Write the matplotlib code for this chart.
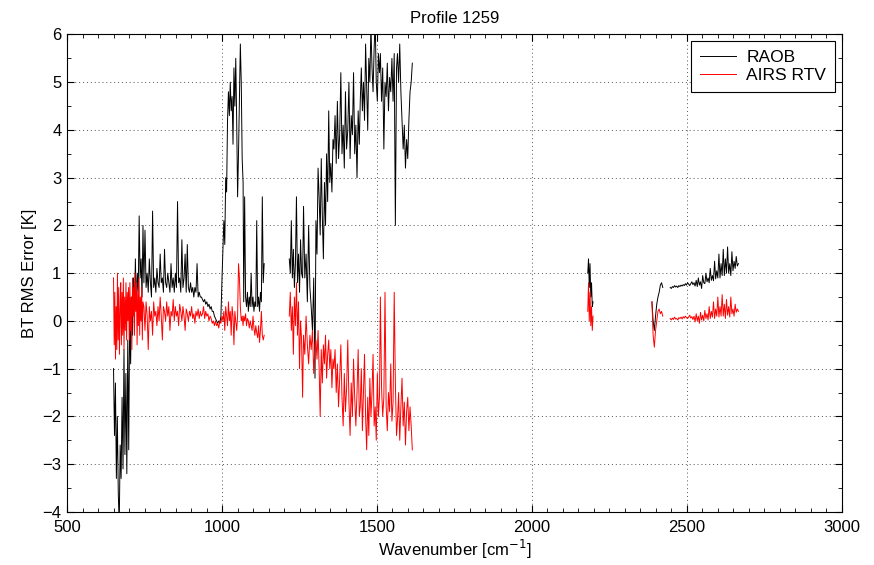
import numpy as np
import matplotlib
matplotlib.use("Agg")
import matplotlib.pyplot as plt
from matplotlib.ticker import MultipleLocator

plt.rcParams['font.family'] = ['Liberation Sans', 'DejaVu Sans']
plt.rcParams['axes.unicode_minus'] = True

title = "Profile 1259"
xlabel = "Wavenumber [cm$^{-1}$]"
ylabel = "BT RMS Error [K]"
series_names = ["RAOB", "AIRS RTV"]

# Each piece: (start wavenumber, end wavenumber)
raob_pieces = [
    (650, 745, [-1.0, -2.4, -1.3, -3.3, -2.0, -3.6, -4.3, -2.6, -3.3, -1.6, -3.1, -0.6, -2.8, -1.1,
                -3.2, -0.4, -2.7, 0.2, -0.9, 0.5, -0.3, 0.9, 0.1, 1.3, 0.3, 1.0, 0.6, 2.2, 0.9, 1.3,
                0.5, 2.0]),
    (748, 1000, [0.8, 1.9, 0.7, 1.0, 0.6, 1.3, 0.8, 0.5, 2.3, 0.7, 0.9, 0.6, 1.1, 0.8, 0.7, 1.4,
                 0.8, 0.9, 0.6, 1.5, 0.8, 0.7, 1.0, 0.8, 0.6, 1.2, 0.7, 0.9, 0.6, 1.0, 0.7, 2.5,
                 0.8, 0.9, 0.6, 1.7, 0.7, 0.9, 1.4, 0.6, 1.6, 0.7, 0.6, 0.8, 0.6, 0.7, 0.5, 0.7,
                 0.6, 1.2, 0.5, 0.6, 0.5, 0.5, 0.45, 0.4, 0.45, 0.35, 0.4, 0.3, 0.35, 0.25, 0.3,
                 0.2, 0.2, 0.1, 0.05, 0.0, -0.05, 0.0, -0.05, 0.1, 0.9]),
    (1003, 1068, [1.5, 2.1, 1.6, 3.0, 2.7, 4.2, 4.8, 4.3, 5.0, 4.4, 4.7, 3.7, 5.3, 4.5, 5.5, 4.2,
                  2.6, 3.5, 4.7, 5.8, 5.0, 3.4, 2.9]),
    (1070, 1136, [0.4, 2.6, 0.5, 0.3, 0.6, 0.2, 0.5, 0.3, 1.0, 0.3, 0.5, 0.2, 0.4, 0.3, 2.1, 0.3,
                  0.5, 0.2, 0.6, 0.4, 2.6, 0.8, 1.2]),
    None,
    (1217, 1260, [1.3, 1.0, 2.1, 0.9, 1.5, 0.7, 1.2, 2.6, 0.8, 1.4, 0.6, 1.7, 1.0, 0.9]),
    (1263, 1300, [2.4, 0.9, 1.4, 0.4, 2.0, 0.7, 0.3, -0.2, 0.9, -1.2]),
    (1303, 1358, [2.1, 1.4, 3.2, 2.6, 1.8, 3.4, 2.2, 1.3, 2.9, 2.0, 3.5, 2.5, 4.4, 2.9, 3.3, 2.7,
                  3.8]),
    (1361, 1443, [3.6, 4.3, 3.3, 4.6, 3.4, 3.9, 5.2, 3.5, 4.1, 3.2, 4.8, 3.6, 4.0, 5.0, 3.4, 4.3,
                  3.9, 5.2, 3.5, 4.1, 3.0, 4.4, 3.7]),
    (1446, 1508, [4.6, 5.3, 4.4, 5.0, 4.2, 5.8, 4.9, 4.0, 5.5, 5.0, 6.2, 5.3, 4.8, 5.7, 6.3, 5.0,
                  4.6, 5.6, 5.2]),
    (1511, 1563, [5.6, 4.6, 5.3, 3.6, 5.0, 4.7, 5.4, 4.4, 5.1, 4.8, 5.5, 4.6, 5.6, 2.0, 5.3]),
    (1566, 1614, [5.6, 5.0, 5.8, 4.8, 4.2, 3.6, 4.1, 3.2, 3.8, 3.4, 4.2, 4.8, 5.0, 5.4]),
    None,
    (2180, 2197, [1.0, 1.3, 0.7, 1.2, 0.5, 0.8, 0.3, 0.4]),
    None,
    (2387, 2422, [0.4, 0.0, -0.2, 0.1, 0.35, 0.5, 0.6, 0.75, 0.8, 0.7]),
    None,
    (2446, 2666, [0.7, 0.68, 0.72, 0.7, 0.74, 0.71, 0.73, 0.7, 0.74, 0.72, 0.75, 0.73, 0.76, 0.74,
                  0.78, 0.75, 0.8, 0.77, 0.74, 0.78, 0.82, 0.76, 0.8, 0.73, 0.85, 0.72, 0.9, 0.75,
                  0.82, 0.68, 0.95, 0.8, 0.78, 1.0, 0.82, 0.9, 0.8, 1.1, 0.85, 0.95, 0.84, 1.25,
                  0.88, 1.05, 0.9, 1.4, 0.9, 1.2, 0.95, 1.5, 0.95, 1.3, 1.0, 1.55, 1.0, 1.2, 0.95,
                  1.45, 1.05, 1.25, 1.1, 1.35, 1.15, 1.2]),
]

airs_pieces = [
    (650, 745, [0.9, -0.5, 0.6, -0.8, 0.3, -0.6, 1.0, -0.4, 0.7, -0.7, 0.2, 0.8, -0.5, 0.6, -0.3,
                0.9, -0.6, 0.5, -0.2, 0.8, -0.4, 0.6, 0.0, 0.7, -0.4, 0.8, -0.2, 0.5, -0.6, 0.9,
                0.1, 0.7, -0.3, 1.0, 0.2, 0.8, -0.5, 0.6, -0.1, 0.9, -0.3, 0.5, 0.0, 0.7, -0.4,
                0.4]),
    (748, 1000, [0.3, -0.2, 0.4, 0.1, -0.6, 0.3, 0.0, 0.2, -0.3, 0.4, 0.1, 0.2, -0.1, 0.3, 0.0,
                 0.5, 0.1, -0.4, 0.3, 0.2, 0.0, 0.4, 0.1, 0.3, -0.2, 0.2, 0.1, 0.45, 0.0, 0.3, 0.1,
                 0.2, -0.1, 0.35, 0.2, 0.0, 0.3, 0.1, -0.2, 0.25, 0.15, 0.0, 0.2, 0.1, 0.3, 0.05,
                 0.15, -0.05, 0.2, 0.1, 0.25, 0.05, 0.2, 0.1, 0.15, 0.3, 0.05, 0.2, 0.1, 0.15, 0.0,
                 0.1, 0.05, -0.05, 0.0, -0.1, 0.0, -0.1, -0.05, -0.15, 0.0, -0.05, 0.1]),
    (1003, 1068, [0.0, 0.2, -0.2, 0.3, 0.1, -0.1, 0.4, 0.0, 0.2, -0.3, 0.3, 0.1, -0.5, 0.2, 0.0,
                  -0.2, 0.1, 1.2, 0.9, 0.3, 0.0, 0.1, -0.1]),
    (1070, 1136, [0.1, 0.0, 0.15, -0.1, 0.05, 0.0, -0.15, 0.0, -0.1, -0.2, 0.1, -0.15, -0.3, -0.1,
                  -0.25, -0.35, -0.1, -0.45, -0.2, 0.2, -0.3, -0.4, -0.3]),
    None,
    (1217, 1260, [0.1, 0.6, -0.2, 0.3, -0.7, 0.5, -0.1, 0.8, -0.3, 0.4, -1.0, 0.0, -0.4, -1.6]),
    (1263, 1300, [-0.3, -0.7, 0.1, -0.5, -0.9, -0.3, -0.6, -0.2, -1.1, -0.5]),
    (1303, 1358, [-0.4, -0.8, -0.2, -1.0, -2.0, -0.6, -1.3, -0.5, -0.9, -0.3, -1.2, -0.7, -0.4,
                  -1.0, -0.6, -1.4, -0.8]),
    (1361, 1443, [-1.0, -0.6, -1.5, -0.9, -1.8, -1.2, -0.5, -1.6, -2.2, -1.1, -1.9, -1.4, -0.4,
                  -1.7, -2.4, -1.3, -2.0, -0.8, -1.6, -2.2, -1.5, -0.6, -2.0]),
    (1446, 1508, [-1.8, -1.0, -2.3, -1.5, -0.7, -2.0, -2.7, -1.6, -2.4, -1.2, -2.0, -1.5, -0.7,
                  -2.2, -1.8, -2.5, -1.1, -2.0, -1.6]),
    (1511, 1563, [0.5, -1.4, -2.0, -1.6, 0.6, -1.8, -2.3, -1.5, -1.9, -0.9, -2.1, -1.7, 0.6, -1.3,
                  -2.4]),
    (1566, 1614, [-2.1, -1.5, -2.5, -1.8, -1.2, -2.2, -1.7, -2.6, -1.9, -1.6, -2.3, -1.8, -2.2,
                  -2.7]),
    None,
    (2180, 2197, [0.2, 0.8, 0.0, 0.6, -0.1, 0.3, -0.2, 0.1]),
    None,
    (2387, 2422, [0.4, -0.3, -0.55, -0.2, 0.0, 0.2, 0.25, 0.15, 0.2, 0.1]),
    None,
    (2446, 2666, [0.05, 0.02, 0.06, 0.03, 0.08, 0.04, 0.05, 0.02, 0.07, 0.05, 0.08, 0.04, 0.09,
                  0.06, 0.1, 0.07, 0.05, 0.08, 0.12, 0.06, 0.09, 0.03, 0.1, -0.02, 0.15, 0.0, 0.1,
                  -0.05, 0.18, 0.02, 0.12, 0.0, 0.22, 0.05, 0.15, 0.02, 0.3, 0.05, 0.2, 0.08, 0.4,
                  0.05, 0.25, 0.1, 0.5, 0.08, 0.3, 0.1, 0.55, 0.1, 0.35, 0.05, 0.45, 0.12, 0.3,
                  0.08, 0.5, 0.15, 0.25, 0.1, 0.35, 0.18, 0.25, 0.2]),
]


def build(pieces):
    xs, ys = [], []
    for p in pieces:
        if p is None:
            xs.append([np.nan]); ys.append([np.nan])
            continue
        a, b, v = p
        xs.append(np.linspace(a, b, len(v)))
        ys.append(np.array(v, dtype=float))
    return np.concatenate(xs), np.concatenate(ys)


rx, ry = build(raob_pieces)
ax_, ay = build(airs_pieces)

fig = plt.figure(figsize=(8.74, 5.65), dpi=100)
ax = fig.add_axes([0.0767, 0.094, 0.8866, 0.845])

ax.plot(rx, ry, color='black', lw=0.7, label=series_names[0])
ax.plot(ax_, ay, color='red', lw=0.7, label=series_names[1])

ax.set_xlim(500, 3000)
ax.set_ylim(-4, 6)
ax.xaxis.set_major_locator(MultipleLocator(500))
ax.xaxis.set_minor_locator(MultipleLocator(50))
ax.yaxis.set_major_locator(MultipleLocator(1))
ax.yaxis.set_minor_locator(MultipleLocator(0.5))
ax.tick_params(which='both', direction='in', top=True, right=True, labelsize=12)
ax.tick_params(axis='x', which='major', pad=6)
ax.tick_params(axis='y', which='major', pad=4)
ax.tick_params(which='major', length=5)
ax.tick_params(which='minor', length=3)
ax.grid(True, which='major', linestyle=(0, (1, 3)), color='#555555', lw=0.7)
for s in ax.spines.values():
    s.set_linewidth(0.8)

ax.set_title(title, fontsize=12, pad=8)
ax.set_xlabel(xlabel, fontsize=12, labelpad=2)
ax.set_ylabel(ylabel, fontsize=12, labelpad=4)

leg = ax.legend(loc='upper right', fontsize=12.5, frameon=True, fancybox=False,
                edgecolor='black', framealpha=1, handlelength=2.1, handletextpad=0.6,
                borderaxespad=0.4, labelspacing=0.15, borderpad=0.5)
leg.get_frame().set_linewidth(0.8)

fig.savefig("out.png", dpi=100)
